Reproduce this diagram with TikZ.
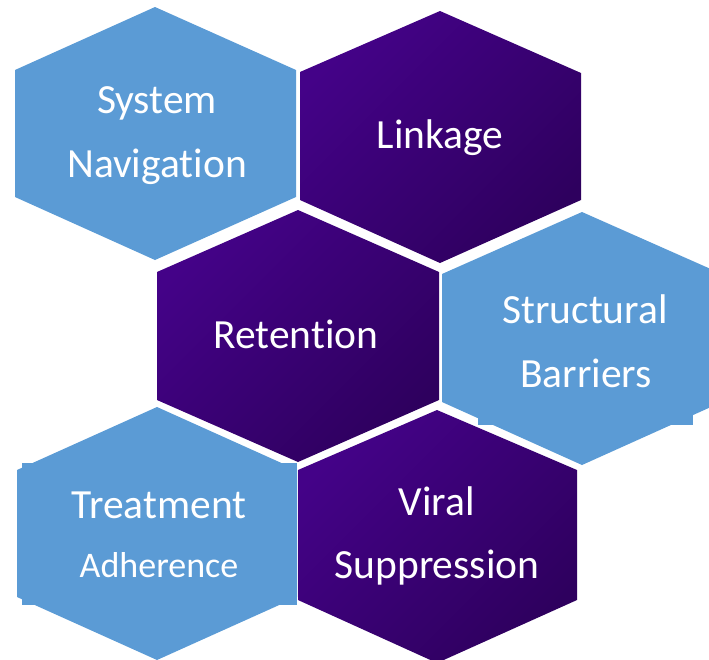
\documentclass[tikz,border=0pt]{standalone}
\usepackage{fontspec}
\setmainfont[Ligatures=NoCommon]{Carlito}
\definecolor{hexblue}{RGB}{91,155,213}
\definecolor{purpA}{RGB}{68,2,136}
\definecolor{purpB}{RGB}{46,0,94}
\tikzset{
  bluehex/.style={fill=hexblue, draw=none},
  purphex/.style={top color=purpA, bottom color=purpB, shading angle=45, draw=none},
  lbl/.style={text=white, anchor=base, inner sep=0pt, font=\fontsize{41.5}{48}\selectfont},
  lblsmall/.style={lbl, font=\fontsize{36}{42}\selectfont}
}
\begin{document}
\begin{tikzpicture}[x=1pt,y=-1pt]
\useasboundingbox (0,0) rectangle (709,659);
\clip (0,0) rectangle (709,659);
% System Navigation
\fill[bluehex] (155,7) -- (296,70) -- (296,197) -- (155,260) -- (15,197) -- (15,70) -- cycle;
% Linkage
\shade[purphex] (440,11) -- (581,73) -- (581,200) -- (440,263) -- (300,200) -- (300,72) -- cycle;
% Retention
\shade[purphex] (298,210) -- (439,272) -- (439,400) -- (298,462) -- (157,400) -- (157,272) -- cycle;
% Structural Barriers
\fill[bluehex] (582,212) -- (722,274) -- (722,402) -- (582,465) -- (442,402) -- (442,274) -- cycle;
\fill[bluehex] (478,330) rectangle (693,425);
% Treatment Adherence
\fill[bluehex] (157,407) -- (297,470) -- (297,597) -- (157,660) -- (17,597) -- (17,470) -- cycle;
\fill[bluehex] (22,463) rectangle (297,605);
% Viral Suppression
\shade[purphex] (437,410) -- (577,470) -- (577,600) -- (437,663) -- (298,600) -- (298,470) -- cycle;
% Labels
\node[lbl] (sys1) at (157,113) {System};
\node[lbl] (sys2) at (157,177) {Navigation};
\node[lbl] (link) at (440,148) {Linkage};
\node[lbl] (ret) at (296,348) {Retention};
\node[lbl] (str1) at (585,323) {Structural};
\node[lbl] (str2) at (586,387) {Barriers};
\node[lbl] (trt1) at (159,518) {Treatment};
\node[lblsmall] (trt2) at (159,577) {Adherence};
\node[lbl] (vir1) at (437,515) {Viral};
\node[lbl] (vir2) at (437,578) {Suppression};
\end{tikzpicture}
\end{document}
